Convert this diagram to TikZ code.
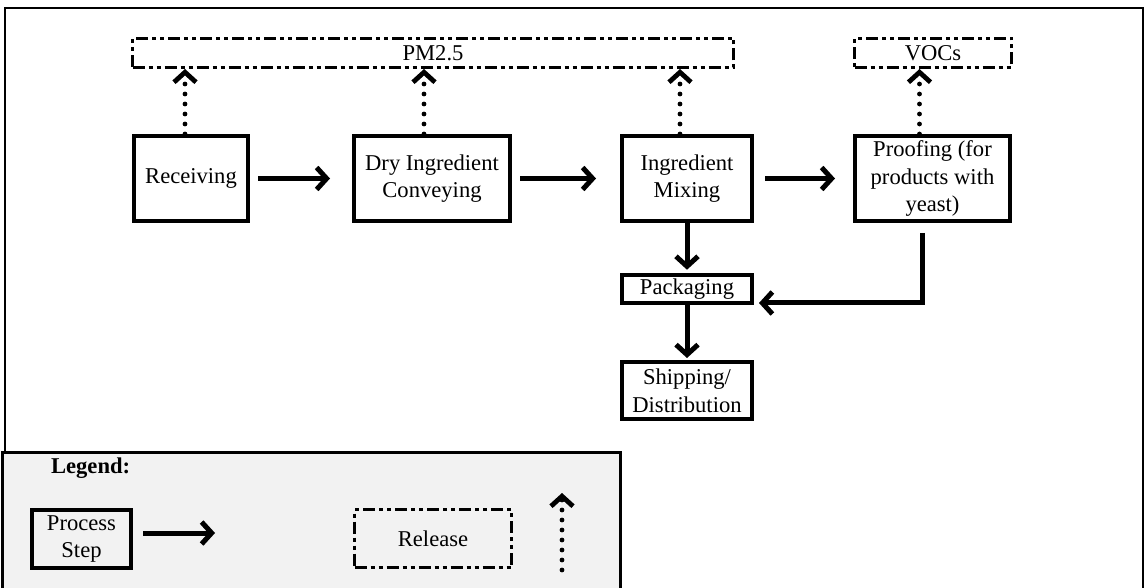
\documentclass[tikz,border=0pt]{standalone}
\usepackage{fontspec}
\setmainfont{Liberation Serif}
\usetikzlibrary{arrows.meta}

\definecolor{legendgray}{HTML}{F2F2F2}
\newcommand{\diagfont}{\fontsize{11.3}{13.8}\selectfont}

\begin{document}
\begin{tikzpicture}[x=0.5pt, y=-0.5pt, >={Straight Barb[length=5pt, width=11pt]}, font=\diagfont,
		proc/.style={draw, line width=2pt, align=center, inner sep=2pt},
		rel/.style={draw, line width=1.5pt, dash pattern=on 6pt off 2pt on 2pt off 2pt on 2pt off 2pt, align=center, inner sep=1pt},
		flow/.style={->, line width=2.5pt},
		emit/.style={->, line width=2.4pt, line cap=round, dash pattern=on 0pt off 5pt}]
		\useasboundingbox (0,0) rectangle (1146,588);
		\draw[line width=1pt] (5,8) rectangle (1143,592);
		
		% releases
		\node[rel, minimum width=300.5pt, minimum height=14.5pt] (pm) at (433, 53) {PM2.5};
		\node[rel, minimum width=78.5pt, minimum height=14.5pt] (voc) at (933, 53) {VOCs};
		
		% process steps
		\node[proc, minimum width=57pt, minimum height=42.5pt] (recv) at (191, 178.5) {Receiving};
		\node[proc, minimum width=78pt, minimum height=42.5pt] (dry) at (432, 178.5) {Dry Ingredient\\Conveying};
		\node[proc, minimum width=65pt, minimum height=42.5pt] (mix) at (687, 178.5) {Ingredient\\Mixing};
		\node[proc, minimum width=77.5pt, minimum height=42.5pt] (proof) at (932.5, 178.5) {Proofing (for\\products with\\yeast)};
		\node[proc, minimum width=65pt, minimum height=14pt] (pack) at (687, 289) {Packaging};
		\node[proc, minimum width=65pt, minimum height=28.5pt] (ship) at (687, 390.5) {Shipping/\\Distribution};
		
		\path[flow] (recv) edge[shorten <=4pt, shorten >=11pt] (dry)
			(dry) edge[shorten <=4pt, shorten >=12pt] (mix)
			(mix) edge[shorten <=5.5pt, shorten >=9pt] (proof)
			(mix) edge[shorten >=1.5pt] (pack)
			(pack) edge[shorten >=1pt] (ship);
		\draw[flow] ([xshift=-5pt, yshift=-5pt]proof.south) |- ([xshift=2.5pt, yshift=-7pt]pack.east);
		
		\draw[emit] ([xshift=-3pt]recv.north) -- ([xshift=-3pt]recv.north |- pm.south);
		\draw[emit] ([xshift=-4pt]dry.north) -- ([xshift=-4pt]dry.north |- pm.south);
		\draw[emit] ([xshift=-3.5pt]mix.north) -- ([xshift=-3.5pt]mix.north |- pm.south);
		\draw[emit] ([xshift=-6.5pt]proof.north) -- ([xshift=-6.5pt]proof.north |- voc.south);
		
		% legend
		\draw[line width=1.5pt, fill=legendgray] (2, 452) rectangle (620, 592);
		\node[anchor=west, font=\diagfont\bfseries] (leg) at (44, 468) {Legend:};
		\node[proc, minimum width=49.5pt, minimum height=29pt] (lproc) at (81.5, 539) {Process\\Step};
		\node[rel, minimum width=78.5pt, minimum height=29pt] (lrel) at (433, 538.5) {Release};
		\coordinate (larr) at (215, 533);
		\coordinate (ldotb) at (562, 570);
		\coordinate (ldott) at (562, 493);
		\draw[flow, shorten <=5pt] ([yshift=3pt]lproc.east) -- (larr);
		\draw[emit] (ldotb) -- (ldott);
	\end{tikzpicture}
\end{document}
